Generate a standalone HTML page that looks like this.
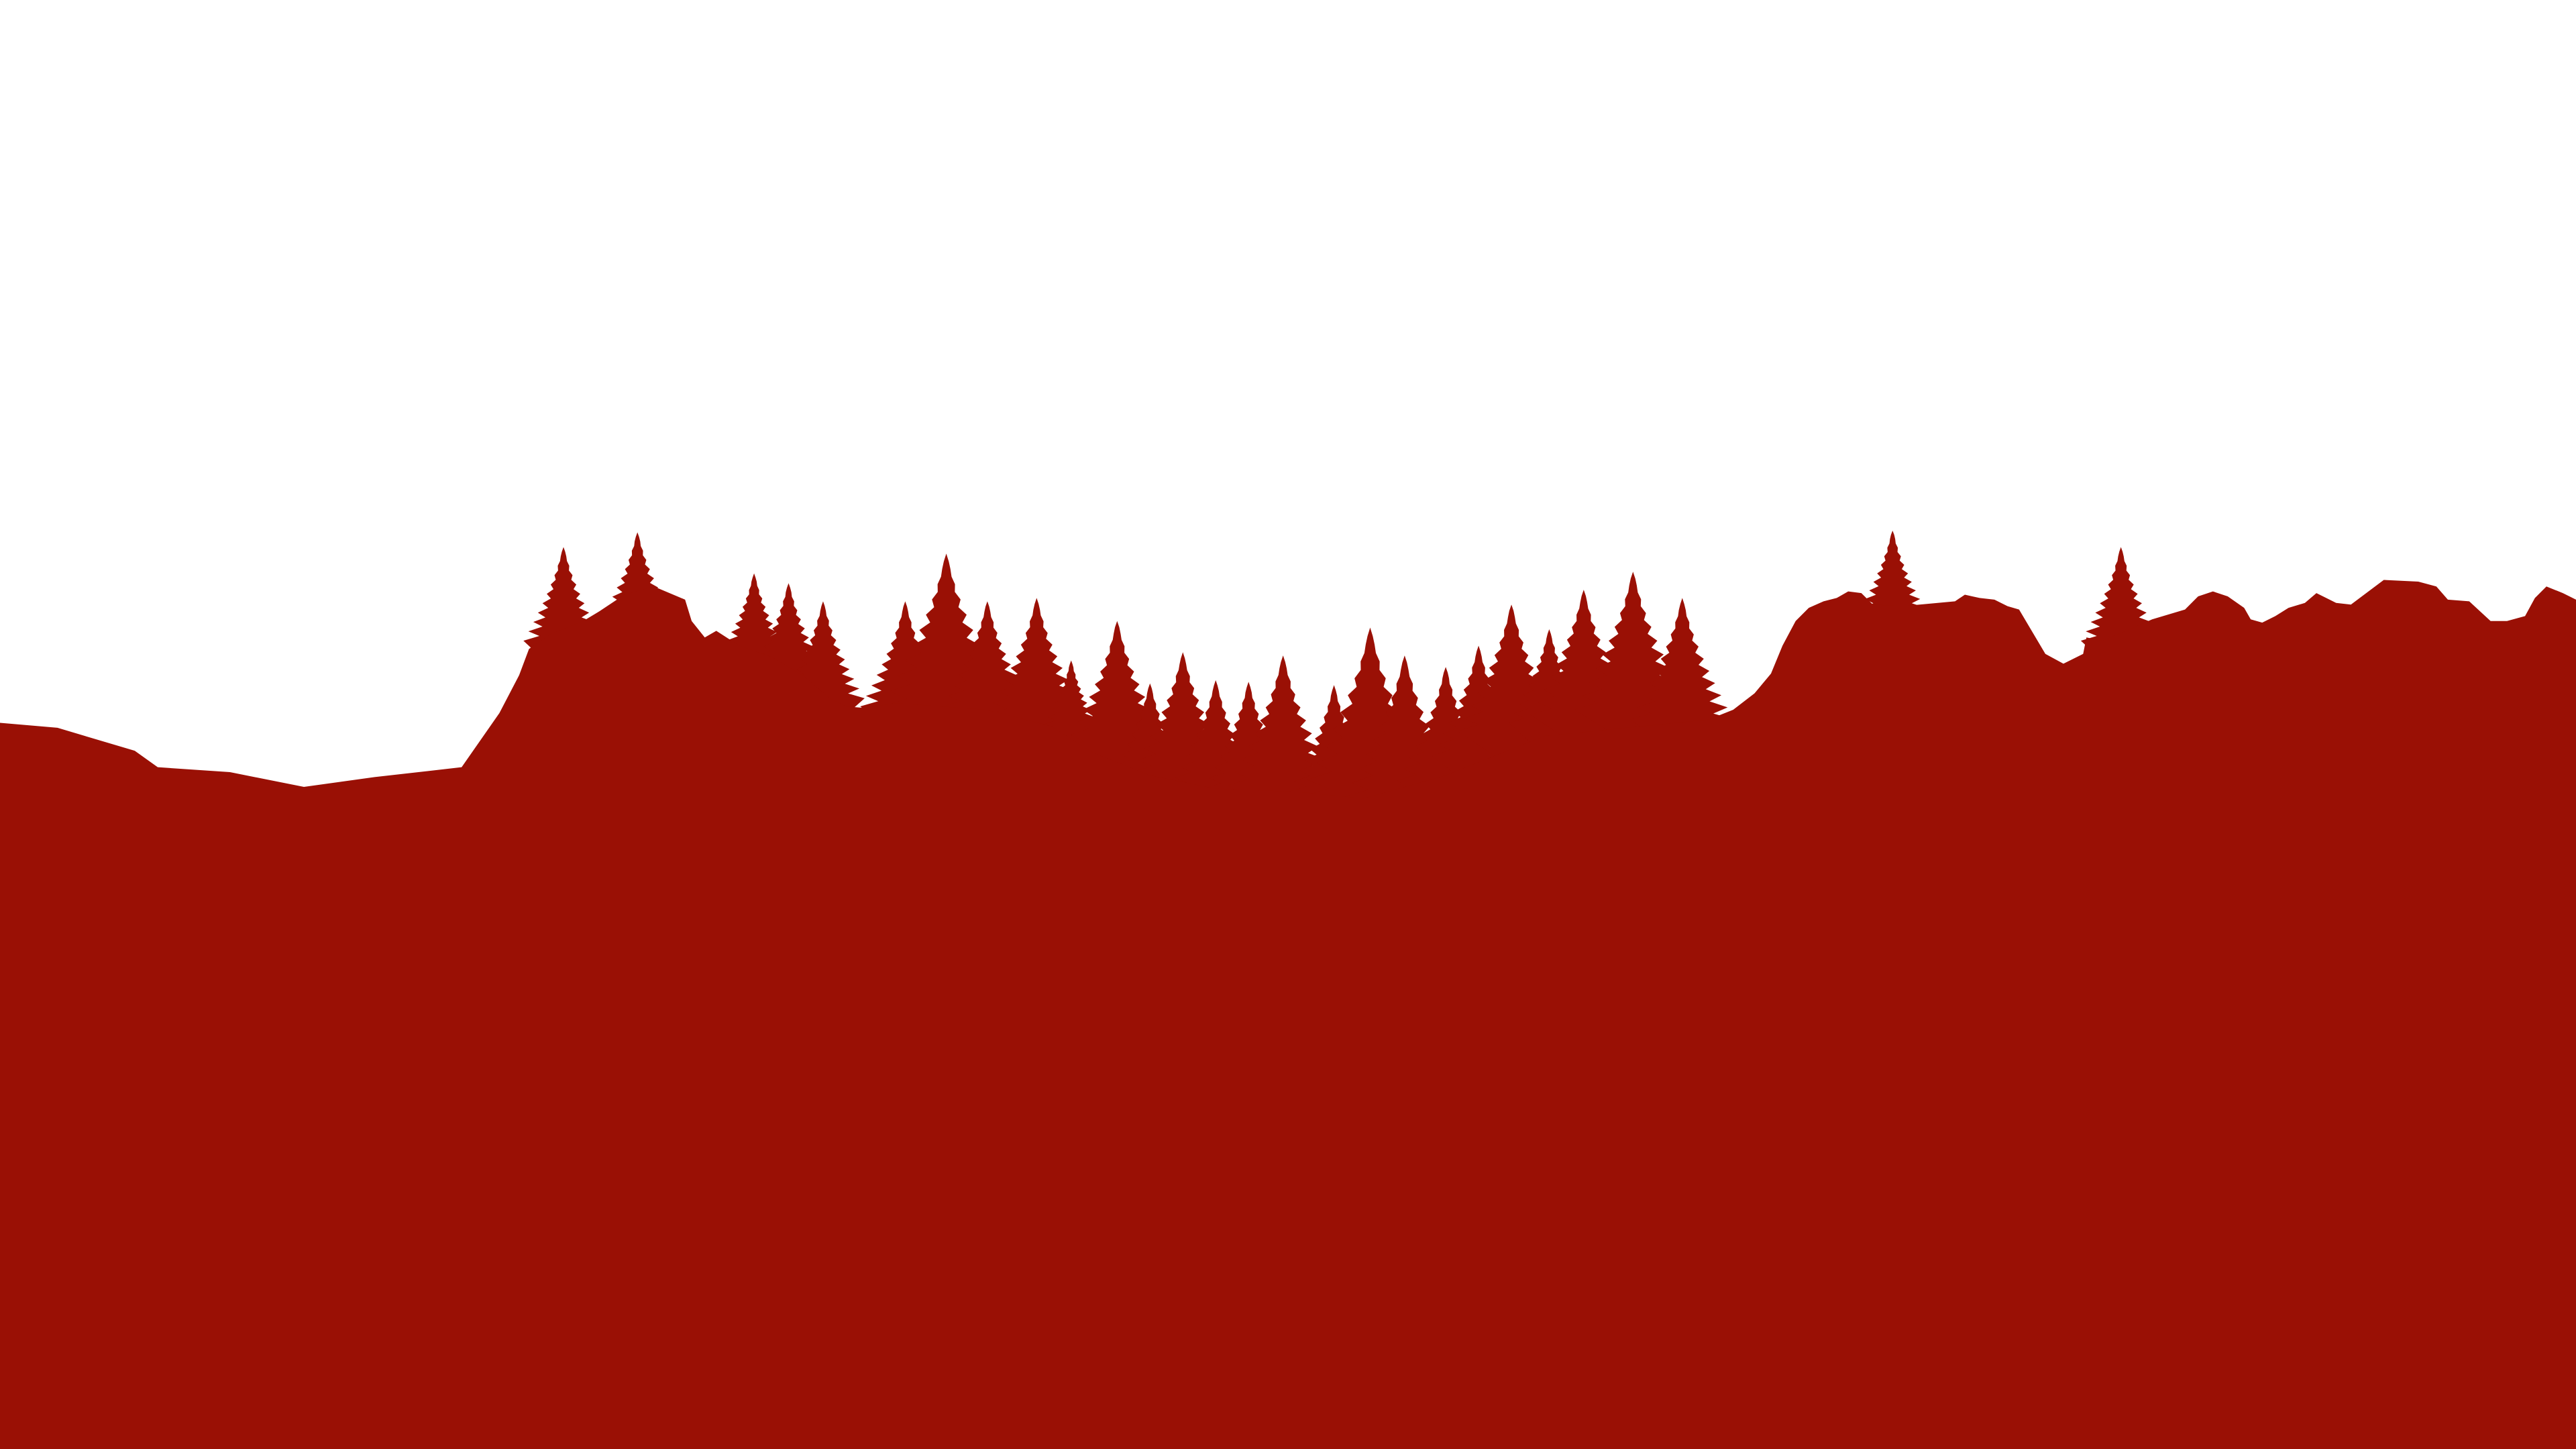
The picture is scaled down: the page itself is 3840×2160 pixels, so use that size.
<!DOCTYPE html>
<html>
<head>
<meta charset="utf-8">
<style>
html,body{margin:0;padding:0;background:#fff;width:3840px;height:2160px;overflow:hidden}
svg{display:block}
</style>
</head>
<body>
<svg id="scene" width="3840" height="2160" viewBox="0 0 1568 882" preserveAspectRatio="none" xmlns="http://www.w3.org/2000/svg">
<g id="trees" fill="#9a1005"></g>
<polygon id="terrain" fill="#9a1005"></polygon>
</svg>
<script>
const terrainX=[0,35,82,96,140,185,228,281,304,316,322,335,355,365,380,398,417,421,429,436,450,470,490,505,515,527,545,600,640,665,700,740,790,830,880,940,1000,1040,1055,1068,1078,1085,1093,1101,1110,1118,1125,1133,1140,1158,1190,1196,1205,1214,1222,1229,1245,1256,1268,1270,1280,1310,1330,1338,1347,1356,1366,1370,1377,1385,1393,1403,1410,1422,1431,1451,1472,1483,1490,1503,1516,1526,1537,1543,1550,1560,1568];
const terrainY=[440,443,457,467,470,479,473,467,434,411,395,386,378,372,362,357,365,378,388,384,393,400,412,425,430,431,428,432,442,458,472,480,482,486,472,448,442,438,432,422,410,393,378,370,366,364,360,361,368,369,366,362,364,365,369,371,398,404,398,388,390,377,371,363,360,363,370,377,379,375,370,367,361,367,368,353,354,357,365,366,378,378,375,364,357,361,365];
const treeX=[343,388,459,480,501,551,576,601,631,652,680,700,720,740,760,781,812,834,855,880,900,920,943,964,994,1024,1152,1291];
const treeTop=[333,324,349,355,366,366,337,366,364,402,378,416,397,414,415,399,417,382,399,406,393,368,383,359,348,364,323,333];
const treeBase=[390,380,400,410,425,430,430,430,435,445,455,478,470,480,480,478,482,485,485,475,460,445,440,435,432,438,375,390];

const pts=terrainX.map((x,i)=>x+','+terrainY[i]);
pts.push('1568,882','0,882');
document.getElementById('terrain').setAttribute('points',pts.join(' '));

const g=document.getElementById('trees');
treeX.forEach((cx,i)=>{
  const top=treeTop[i], base=treeBase[i], h=base-top;
  const tiers=10;
  let L=[],R=[];
  for(let t=1;t<=tiers;t++){
    const y=top+h*t/tiers;
    const w=Math.min(0.42*h*Math.pow(t/tiers,1.3)+0.5,42);
    const yi=y-h/tiers*0.5;
    const wi=w*0.6;
    R.push([cx+wi,yi],[cx+w,y]);
    L.push([cx-wi,yi],[cx-w,y]);
  }
  const path=[[cx,top]].concat(R,[[cx+3,base+20],[cx-3,base+20]],L.slice().reverse());
  const p=document.createElementNS('http://www.w3.org/2000/svg','polygon');
  p.setAttribute('points',path.map(q=>q[0].toFixed(1)+','+q[1].toFixed(1)).join(' '));
  
  
  g.appendChild(p);
});
</script>
</body>
</html>
